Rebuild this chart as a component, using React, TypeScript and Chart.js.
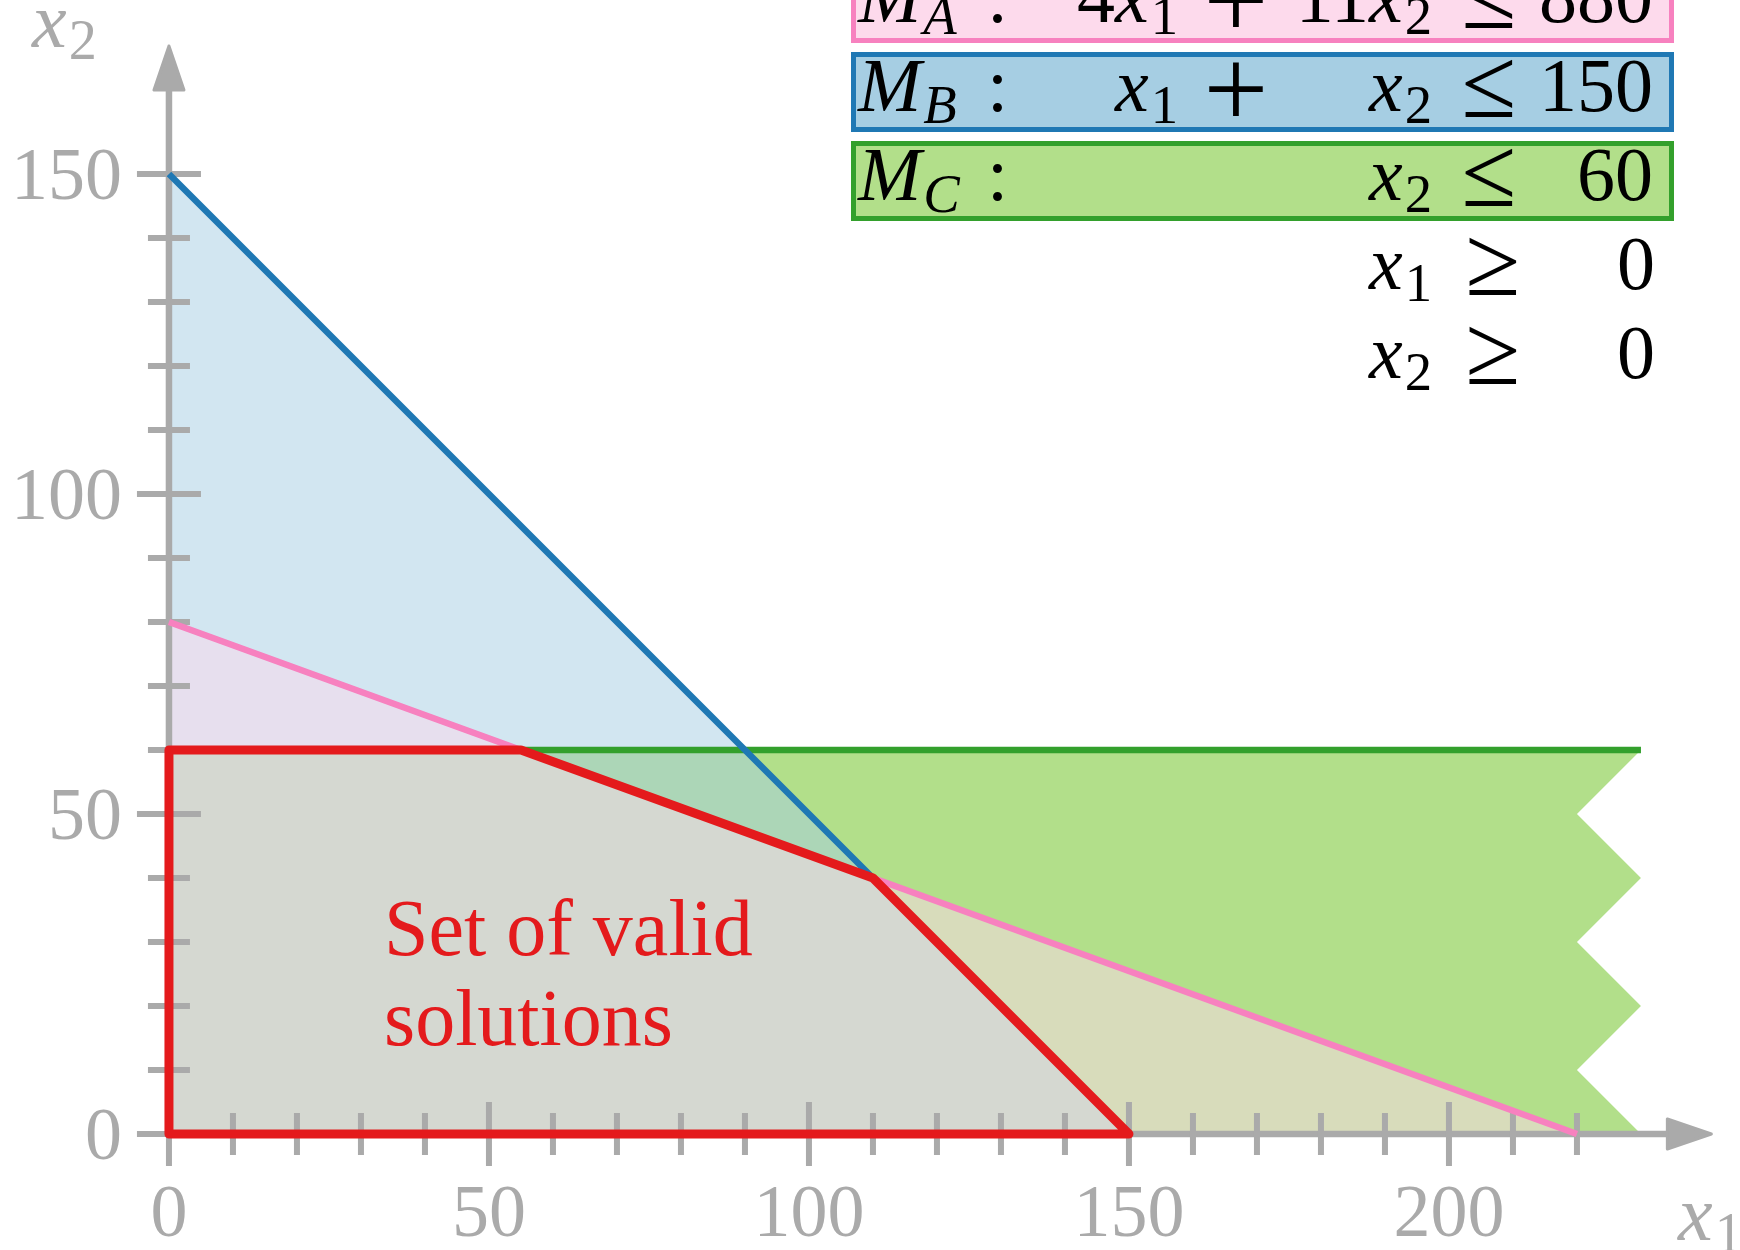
import React, { useEffect, useRef } from 'react';
import { Chart, registerables } from 'chart.js';
Chart.register(...registerables);

// ---------------- data ----------------
// constraint regions (polygons, data coordinates)
const regionA = [[0, 0], [0, 80], [220, 0]];                 // 4x1 + 11x2 <= 880
const regionB = [[0, 0], [0, 150], [150, 0]];                // x1 + x2 <= 150
const regionC = [[0, 0], [0, 60], [230, 60], [220, 50], [230, 40], [220, 30], [230, 20], [220, 10], [230, 0]]; // x2 <= 60
// constraint boundary lines
const lineA = [[0, 80], [220, 0]];
const lineB = [[0, 150], [150, 0]];
const lineC = [[0, 60], [230, 60]];
// feasible set
const validSet = [[0, 0], [0, 60], [55, 60], [110, 40], [150, 0], [0, 0]];

// axis ticks
const xMajorTicks = [0, 50, 100, 150, 200];
const xMinorTicks = [10, 20, 30, 40, 60, 70, 80, 90, 110, 120, 130, 140, 160, 170, 180, 190, 210, 220];
const yMajorTicks = [0, 50, 100, 150];
const yMinorTicks = [10, 20, 30, 40, 60, 70, 80, 90, 110, 120, 130, 140];
const xAxisEnd = 241;
const yAxisEnd = 170;

// legend (constraint table)
const constraintNames = ['A', 'B', 'C'];
const coefX1 = ['4', '', ''];
const hasX1 = [true, true, false];
const coefX2 = ['11', '', ''];
const rhsValues = ['880', '150', '60'];
const nonNegVars = ['1', '2'];
const nonNegRhs = ['0', '0'];

// ---------------- styles ----------------
const W = 1740;
const H = 1250;
const X_MIN = -26.4;
const X_MAX = 245.475;
const Y_MIN = -18.125;
const Y_MAX = 177.19;
const FONT = '"Liberation Serif", "DejaVu Serif", serif';
const AXIS_COLOR = '#aaaaaa';
const PINK_FILL = 'rgba(253,218,236,0.5)';
const BLUE_FILL = 'rgba(166,206,227,0.5)';
const GREEN_FILL = '#b2df8a';
const PINK_LINE = '#f781bf';
const BLUE_LINE = '#1f78b4';
const GREEN_LINE = '#33a02c';
const RED = '#e41a1c';
const boxFills = ['#fddaec', '#a6cee3', '#b2df8a'];
const boxBorders = ['#f781bf', '#1f78b4', '#33a02c'];

const toPts = (arr: number[][]) => arr.map(([x, y]) => ({ x, y }));

const GREEN_LINE_INDEX = 3;

const axesPlugin = {
  id: 'lpAxes',
  beforeDatasetDraw(chart: any, args: any) {
    if (args.index !== GREEN_LINE_INDEX) return;
    const { ctx } = chart;
    const xs = chart.scales.x;
    const ys = chart.scales.y;
    const x0 = xs.getPixelForValue(0);
    const y0 = ys.getPixelForValue(0);
    const xTip = xs.getPixelForValue(xAxisEnd);
    const yTip = ys.getPixelForValue(yAxisEnd);
    const aLen = 44;
    const aHalf = 15;
    ctx.save();
    ctx.strokeStyle = AXIS_COLOR;
    ctx.fillStyle = AXIS_COLOR;
    ctx.lineWidth = 6.5;
    ctx.lineCap = 'butt';
    // axis lines
    ctx.beginPath();
    ctx.moveTo(x0 - 3, y0);
    ctx.lineTo(xTip - aLen + 4, y0);
    ctx.moveTo(x0, y0 + 3);
    ctx.lineTo(x0, yTip + aLen - 4);
    ctx.stroke();
    // ticks
    ctx.lineWidth = 6;
    ctx.beginPath();
    xMinorTicks.forEach((v) => {
      const p = xs.getPixelForValue(v);
      ctx.moveTo(p, y0 - 21);
      ctx.lineTo(p, y0 + 21);
    });
    xMajorTicks.forEach((v) => {
      const p = xs.getPixelForValue(v);
      ctx.moveTo(p, y0 - 32);
      ctx.lineTo(p, y0 + 32);
    });
    yMinorTicks.forEach((v) => {
      const p = ys.getPixelForValue(v);
      ctx.moveTo(x0 - 21, p);
      ctx.lineTo(x0 + 21, p);
    });
    yMajorTicks.forEach((v) => {
      const p = ys.getPixelForValue(v);
      ctx.moveTo(x0 - 32, p);
      ctx.lineTo(x0 + 32, p);
    });
    ctx.stroke();
    // arrow heads
    ctx.lineJoin = 'round';
    ctx.lineWidth = 3;
    ctx.beginPath();
    ctx.moveTo(xTip, y0);
    ctx.lineTo(xTip - aLen, y0 - aHalf);
    ctx.lineTo(xTip - aLen, y0 + aHalf);
    ctx.closePath();
    ctx.fill();
    ctx.stroke();
    ctx.beginPath();
    ctx.moveTo(x0, yTip);
    ctx.lineTo(x0 - aHalf, yTip + aLen);
    ctx.lineTo(x0 + aHalf, yTip + aLen);
    ctx.closePath();
    ctx.fill();
    ctx.stroke();
    ctx.restore();
  },
  afterDatasetsDraw(chart: any) {
    const { ctx } = chart;
    const xs = chart.scales.x;
    const ys = chart.scales.y;
    const x0 = xs.getPixelForValue(0);
    const y0 = ys.getPixelForValue(0);
    ctx.save();
    ctx.fillStyle = AXIS_COLOR;
    ctx.font = `74px ${FONT}`;
    ctx.textBaseline = 'alphabetic';
    ctx.textAlign = 'center';
    xMajorTicks.forEach((v) => {
      ctx.fillText(String(v), xs.getPixelForValue(v), y0 + 102);
    });
    ctx.textAlign = 'right';
    yMajorTicks.forEach((v) => {
      ctx.fillText(String(v), x0 - 47, ys.getPixelForValue(v) + 25);
    });
    ctx.restore();
  },
};

type TxtProps = {
  x: number;
  base: number;
  align?: 'left' | 'right' | 'center';
  size?: number;
  color?: string;
  italic?: boolean;
  children: React.ReactNode;
};

function Txt({ x, base, align = 'left', size = 76, color = '#000', italic = false, children }: TxtProps) {
  const style: React.CSSProperties = {
    position: 'absolute',
    top: base - 0.8375 * size,
    fontSize: size,
    lineHeight: `${size}px`,
    fontFamily: FONT,
    color,
    whiteSpace: 'nowrap',
    fontStyle: italic ? 'italic' : 'normal',
  };
  if (align === 'left') style.left = x;
  else if (align === 'right') style.right = W - x;
  else {
    style.left = x;
    style.transform = 'translateX(-50%)';
  }
  return <span style={style}>{children}</span>;
}

function Sub({ children, italic = false, drop = 12 }: { children: React.ReactNode; italic?: boolean; drop?: number }) {
  return (
    <span
      style={{
        fontSize: '0.72em',
        verticalAlign: `-${drop}px`,
        lineHeight: 0,
        fontStyle: italic ? 'italic' : 'normal',
        marginLeft: 2,
      }}
    >
      {children}
    </span>
  );
}

const X = () => <i style={{ fontStyle: 'italic' }}>x</i>;

function Legend() {
  const rows: React.ReactNode[] = [];
  const base0 = 22;
  const pitch = 89;
  constraintNames.forEach((name, i) => {
    const b = base0 + pitch * i;
    rows.push(
      <div
        key={`box${i}`}
        style={{
          position: 'absolute',
          left: 851,
          top: b - 59,
          width: 823,
          height: 80,
          boxSizing: 'border-box',
          background: boxFills[i],
          border: `5px solid ${boxBorders[i]}`,
        }}
      />
    );
    rows.push(
      <Txt key={`m${i}`} x={858} base={b}>
        <i>M</i>
        <Sub italic>{name}</Sub>
      </Txt>
    );
    rows.push(
      <Txt key={`c${i}`} x={987} base={b}>
        :
      </Txt>
    );
    if (hasX1[i]) {
      rows.push(
        <Txt key={`t1${i}`} x={1178} base={b} align="right">
          {coefX1[i]}
          <X />
          <Sub>1</Sub>
        </Txt>
      );
      rows.push(
        <Txt key={`p${i}`} x={1236} base={b + 16} size={115} align="center">
          +
        </Txt>
      );
    }
    rows.push(
      <Txt key={`t2${i}`} x={1432} base={b} align="right">
        {coefX2[i]}
        <X />
        <Sub>2</Sub>
      </Txt>
    );
    rows.push(
      <Txt key={`r${i}`} x={1489} base={b + 7} size={100} align="center">
        ≤
      </Txt>
    );
    rows.push(
      <Txt key={`v${i}`} x={1653} base={b} align="right">
        {rhsValues[i]}
      </Txt>
    );
  });
  nonNegVars.forEach((v, j) => {
    const b = base0 + pitch * (constraintNames.length + j);
    rows.push(
      <Txt key={`nx${j}`} x={1432} base={b} align="right">
        <X />
        <Sub>{v}</Sub>
      </Txt>
    );
    rows.push(
      <Txt key={`nr${j}`} x={1493} base={b + 7} size={100} align="center">
        ≥
      </Txt>
    );
    rows.push(
      <Txt key={`nv${j}`} x={1655} base={b} align="right">
        {nonNegRhs[j]}
      </Txt>
    );
  });
  return <>{rows}</>;
}

export default function App() {
  const canvasRef = useRef<HTMLCanvasElement | null>(null);

  useEffect(() => {
    document.body.style.margin = '0';
    const canvas = canvasRef.current;
    if (!canvas) return;
    const fillDs = (pts: number[][], color: string, order: number) => ({
      data: toPts(pts),
      showLine: true,
      fill: 'shape',
      backgroundColor: color,
      borderColor: 'rgba(0,0,0,0)',
      borderWidth: 0,
      pointRadius: 0,
      order,
    });
    const lineDs = (pts: number[][], color: string, width: number, order: number, round = false) => ({
      data: toPts(pts),
      showLine: true,
      fill: false,
      borderColor: color,
      backgroundColor: color,
      borderWidth: width,
      pointRadius: 0,
      borderCapStyle: round ? 'round' : 'butt',
      borderJoinStyle: round ? 'round' : 'miter',
      order,
    });
    const chart = new Chart(canvas, {
      type: 'scatter',
      data: {
        datasets: [
          lineDs(validSet, RED, 9, 0, true), // 0
          lineDs(lineA, PINK_LINE, 6.5, 1), // 1
          lineDs(lineB, BLUE_LINE, 6.5, 2), // 2
          lineDs(lineC, GREEN_LINE, 6.5, 3), // 3
          fillDs(regionA, PINK_FILL, 4), // 4
          fillDs(regionB, BLUE_FILL, 5), // 5
          fillDs(regionC, GREEN_FILL, 6), // 6
        ] as any,
      },
      options: {
        responsive: false,
        animation: false,
        devicePixelRatio: 1,
        events: [],
        layout: { padding: 0 },
        plugins: {
          legend: { display: false },
          tooltip: { enabled: false },
          title: { display: false },
        },
        elements: { line: { tension: 0 }, point: { radius: 0 } },
        scales: {
          x: { type: 'linear', min: X_MIN, max: X_MAX, display: false },
          y: { type: 'linear', min: Y_MIN, max: Y_MAX, display: false },
        },
      } as any,
      plugins: [axesPlugin],
    });
    return () => chart.destroy();
  }, []);

  return (
    <div style={{ position: 'relative', width: W, height: H, overflow: 'hidden', background: '#fff' }}>
      <canvas ref={canvasRef} width={W} height={H} style={{ position: 'absolute', left: 0, top: 0, width: W, height: H }} />
      <Legend />
      {/* axis titles */}
      <Txt x={32} base={47} size={78} color={AXIS_COLOR}>
        <X />
        <Sub>2</Sub>
      </Txt>
      <Txt x={1678} base={1240} size={78} color={AXIS_COLOR}>
        <X />
        <Sub>1</Sub>
      </Txt>
      {/* feasible set label */}
      <Txt x={384} base={955} size={80} color={RED}>
        Set of valid
      </Txt>
      <Txt x={384} base={1045} size={80} color={RED}>
        solutions
      </Txt>
    </div>
  );
}
